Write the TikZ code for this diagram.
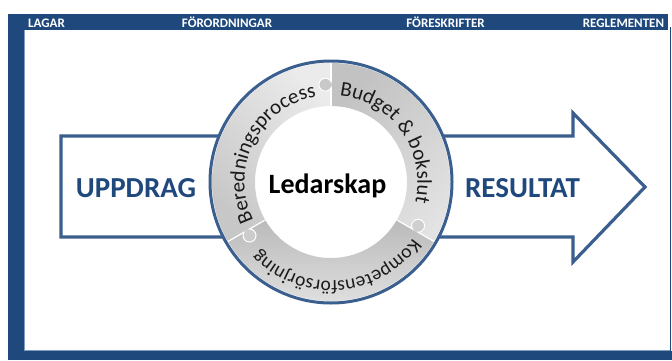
\documentclass[tikz,border=0pt]{standalone}
\usepackage{fontspec}
\setmainfont{Carlito}
\usetikzlibrary{decorations.text}
\definecolor{framebl}{HTML}{1F497D}
\definecolor{arrowbl}{HTML}{3A5F8E}
\definecolor{textbl}{HTML}{1F497D}
\definecolor{innerln}{HTML}{7F9CC2}
\definecolor{ringtxt}{HTML}{1A1A1A}
\newcommand{\rfonttop}{\fontsize{21}{21}\selectfont}
\newcommand{\rfontbot}{\fontsize{19.5}{19.5}\selectfont}
\begin{document}
\begin{tikzpicture}[x=1pt,y=1pt,
  hdr/.style={text=white, font=\fontsize{13}{13}\selectfont\bfseries, inner sep=0pt, anchor=base},
  big/.style={text=textbl, font=\fontsize{29}{29}\selectfont\bfseries, inner sep=0pt, anchor=base},
  seam/.style={white, line width=1.2pt},
  knobline/.style={white, line width=1pt},
  ringlabel/.style={decorate, text=ringtxt}]
\useasboundingbox (0,0) rectangle (672,360);
% frame
\fill[framebl] (8,0) rectangle (24,346);
\fill[framebl] (8,330) rectangle (668,346);
\fill[framebl] (8,0) rectangle (672,9);
\fill[framebl] (669.5,9) rectangle (671,333);
\draw[innerln, line width=0.7pt] (24.35,330) -- (24.35,9.35) -- (669.5,9.35);
\node[hdr] (lagar) at (46.5,332.5) {LAGAR};
\node[hdr] (forord) at (227,332.5) {FÖRORDNINGAR};
\node[hdr] (foresk) at (445.5,332.5) {FÖRESKRIFTER};
\node[hdr] (regl) at (623.5,332.5) {REGLEMENTEN};
% arrow
\draw[arrowbl, line width=3.2pt, fill=white, line join=miter]
  (61,224) -- (573,224) -- (573,247) -- (645,173) -- (573,98) -- (573,123) -- (61,123) -- cycle;
\node[big] (uppdrag) at (136,163) {UPPDRAG};
\node[big] (resultat) at (522.5,163) {RESULTAT};
% ring
\begin{scope}[shift={(331,178)}]
  \fill[white] (0,0) circle (122);
  \shade[top color=black!8, bottom color=black!22, shading angle=-45]
    (90:119) arc[start angle=90, end angle=210, radius=119] -- (210:76) arc[start angle=210, end angle=90, radius=76] -- cycle;
  \shade[top color=black!24, bottom color=black!11, shading angle=45]
    (-30:119) arc[start angle=-30, end angle=90, radius=119] -- (90:76) arc[start angle=90, end angle=-30, radius=76] -- cycle;
  \shade[top color=black!27, bottom color=black!10, shading angle=0]
    (210:119) arc[start angle=210, end angle=330, radius=119] -- (330:76) arc[start angle=330, end angle=210, radius=76] -- cycle;
  \draw[seam] (90:76) -- (90:119);
  \draw[seam] (-30:76) -- (-30:119);
  \draw[seam] (210:76) -- (210:119);
  % knobs
  \fill[black!21] (93.3:97.5) circle (6.5);
  \begin{scope}
    \clip (90:130) arc[start angle=90, end angle=210, radius=130] -- (0,0) -- cycle;
    \draw[knobline] (93.3:97.5) circle (6.5);
  \end{scope}
  \fill[black!19] (-26.7:97.5) circle (6.5);
  \begin{scope}
    \clip (-30:130) arc[start angle=-30, end angle=90, radius=130] -- (0,0) -- cycle;
    \draw[knobline] (-26.7:97.5) circle (6.5);
  \end{scope}
  \fill[black!20] (213.3:97.5) circle (6.5);
  \begin{scope}
    \clip (210:130) arc[start angle=210, end angle=330, radius=130] -- (0,0) -- cycle;
    \draw[knobline] (213.3:97.5) circle (6.5);
  \end{scope}
  \draw[arrowbl, line width=3pt] (0,0) circle (121);
  % ring texts
  \path[ringlabel, decoration={text along path, text align=center,
      text={|\rfonttop\color{ringtxt}|Beredningsprocess}}]
    (206:86.5) arc[start angle=206, end angle=100, radius=86.5];
  \path[ringlabel, decoration={text along path, text align=center,
      text={|\rfonttop\color{ringtxt}|Budget {\&} bokslut}}]
    (90:86.5) arc[start angle=90, end angle=-19, radius=86.5];
  \path[ringlabel, decoration={text along path, text align=center,
      text={|\rfontbot\color{ringtxt}|Kompetensförsörjning}}]
    (-15:99) arc[start angle=-15, end angle=-156, radius=99];
\end{scope}
\node[font=\fontsize{28}{28}\selectfont\bfseries, inner sep=0pt, anchor=base] (lead) at (327.5,167) {Ledarskap};
\end{tikzpicture}
\end{document}
